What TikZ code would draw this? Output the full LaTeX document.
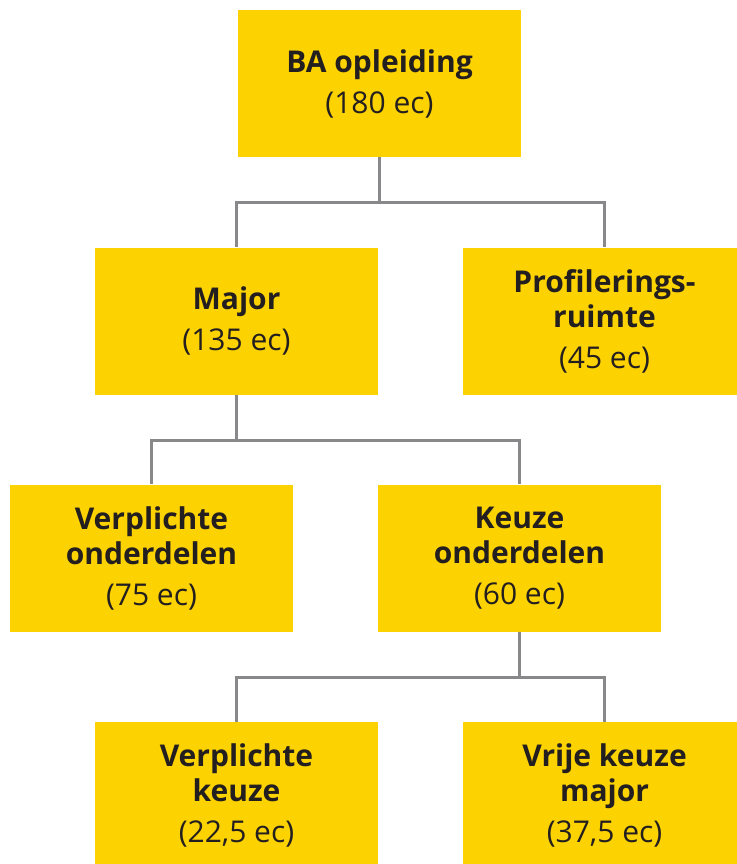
\documentclass[tikz,border=0pt]{standalone}
\usepackage{fontspec}
\setmainfont{Open Sans}
\usepackage{xcolor}
\usetikzlibrary{positioning}

\definecolor{geel}{HTML}{FCD200}
\definecolor{lijn}{HTML}{88888A}
\definecolor{tekst}{HTML}{231F20}

\begin{document}
\begin{tikzpicture}[x=1pt, y=-1pt,
  every node/.style={font=\fontsize{30}{35}\selectfont, text=tekst},
  blok/.style={fill=geel, minimum width=283pt, minimum height=147pt, align=center, inner sep=0pt},
  link/.style={draw=lijn, line width=3pt}]
\useasboundingbox (0,0) rectangle (736,864);

% Blokken
\node[blok] (ba) at (379.5,83.5) {\bfseries BA opleiding\\[6pt](180 ec)};
\node[blok] (major) at (236.5,321) {\bfseries Major\\[6pt](135 ec)};
\node[blok] (prof) at (604.5,321) {\bfseries Profilerings-\\\bfseries ruimte\\[6pt](45 ec)};
\node[blok] (verpl) at (151.5,558) {\bfseries Verplichte\\\bfseries onderdelen\\[6pt](75 ec)};
\node[blok] (keuze) at (519.5,558) {\bfseries Keuze\\\bfseries onderdelen\\[6pt](60 ec)};
\node[blok] (vkeuze) at (236.5,795.5) {\bfseries Verplichte\\\bfseries keuze\\[6pt](22,5 ec)};
\node[blok] (vrij) at (604.5,795.5) {\bfseries Vrije keuze\\\bfseries major\\[6pt](37,5 ec)};

% Knooppunten
\coordinate (j1) at (379.5,202);
\coordinate (j2) at (236.5,440);
\coordinate (j3) at (519.5,677);

% Verbindingen
\draw[link] (ba.south) -- (j1);
\draw[link] (j1) -| (major.north);
\draw[link] (j1) -| (prof.north);
\draw[link] (major.south) -- (j2);
\draw[link] (j2) -| (verpl.north);
\draw[link] (j2) -| (keuze.north);
\draw[link] (keuze.south) -- (j3);
\draw[link] (j3) -| (vkeuze.north);
\draw[link] (j3) -| (vrij.north);

\end{tikzpicture}
\end{document}
